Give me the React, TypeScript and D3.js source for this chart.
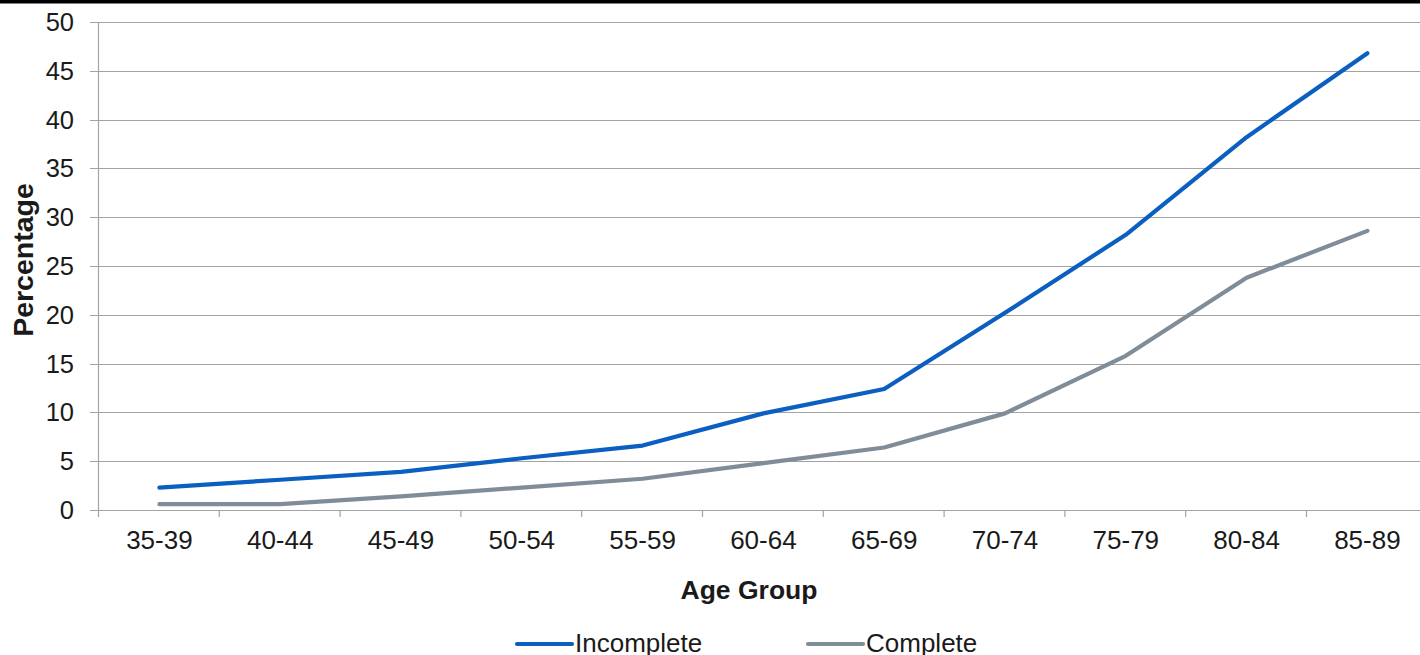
import React from "react";
import * as d3 from "d3";

const categories = ["35-39", "40-44", "45-49", "50-54", "55-59", "60-64", "65-69", "70-74", "75-79", "80-84", "85-89"];
const incomplete = [2.3, 3.1, 3.9, 5.3, 6.6, 9.9, 12.4, 20.2, 28.2, 38.2, 46.8];
const complete = [0.6, 0.6, 1.4, 2.3, 3.2, 4.8, 6.4, 9.9, 15.8, 23.8, 28.6];
const yTicks = [0, 5, 10, 15, 20, 25, 30, 35, 40, 45, 50];
const seriesNames = ["Incomplete", "Complete"];
const seriesColors = ["#0a5fc0", "#808d98"];

const W = 1420;
const H = 655;
const left = 99;
const bandW = 120.8;
const top = 22;
const bottom = 510;

export default function App() {
  const x = d3.scaleBand<string>().domain(categories).range([left, left + bandW * categories.length]).padding(0);
  const y = d3.scaleLinear().domain([0, 50]).range([bottom, top]);
  const cx = (c: string) => (x(c) as number) + x.bandwidth() / 2;
  const line = d3
    .line<number>()
    .x((_, i) => cx(categories[i]))
    .y((d) => y(d));
  const font = "'Liberation Sans', Arial, sans-serif";
  const series = [incomplete, complete];
  const legendX = [517, 808];

  return (
    <svg width={W} height={H} style={{ position: "absolute", left: 0, top: 0, background: "#fff" }} fontFamily={font}>
      <rect x={0} y={0} width={W} height={3.5} fill="#000" />
      {yTicks.map((t) => (
        <g key={t}>
          <line x1={90} x2={W} y1={Math.round(y(t)) + 0.5} y2={Math.round(y(t)) + 0.5} stroke="#a3a3a3" strokeWidth={1.2} />
          <text x={74} y={y(t)} dy="0.35em" textAnchor="end" fontSize={25.5} fill="#1a1a1a">
            {t}
          </text>
        </g>
      ))}
      <line x1={left - 0.5} x2={left - 0.5} y1={top} y2={bottom + 7} stroke="#a3a3a3" strokeWidth={1.2} />
      {categories.map((c, i) => (
        <g key={c}>
          {i > 0 && (
            <line x1={(x(c) as number) - 0.5} x2={(x(c) as number) - 0.5} y1={bottom} y2={bottom + 7} stroke="#a3a3a3" strokeWidth={1.2} />
          )}
          <text x={cx(c)} y={549} textAnchor="middle" fontSize={26} fill="#1a1a1a">
            {c}
          </text>
        </g>
      ))}
      {series.map((s, i) => (
        <path key={i} d={line(s) as string} fill="none" stroke={seriesColors[i]} strokeWidth={4.2} strokeLinejoin="round" strokeLinecap="round" />
      ))}
      <text x={749} y={599} textAnchor="middle" fontSize={26.5} fontWeight="bold" fill="#1a1a1a">
        Age Group
      </text>
      <text transform="translate(33,260) rotate(-90)" textAnchor="middle" fontSize={28.5} fontWeight="bold" fill="#1a1a1a">
        Percentage
      </text>
      {seriesNames.map((n, i) => (
        <g key={n}>
          <line x1={legendX[i]} x2={legendX[i] + 55} y1={644} y2={644} stroke={seriesColors[i]} strokeWidth={4.2} strokeLinecap="round" />
          <text x={legendX[i] + 58} y={652} fontSize={26} fill="#1a1a1a">
            {n}
          </text>
        </g>
      ))}
    </svg>
  );
}
